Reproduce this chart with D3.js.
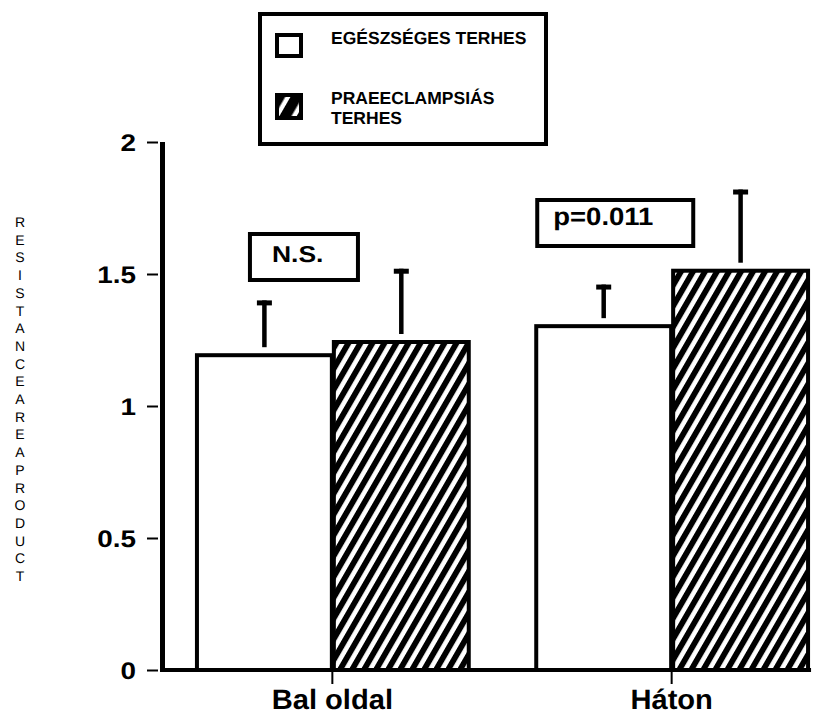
<!DOCTYPE html>
<html>
<head>
<meta charset="utf-8">
<script src="https://cdn.jsdelivr.net/npm/d3@7"></script>
<style>
  html, body { margin: 0; padding: 0; background: #fff; }
  svg { display: block; font-family: "Liberation Sans", Arial, Helvetica, sans-serif; }
  text { text-rendering: geometricPrecision; }
</style>
</head>
<body>
<svg id="chart" width="823" height="717"></svg>
<script>
// Groups (x axis) and series
const groups = ["Bal oldal", "Háton"];
const seriesNames = ["EGÉSZSÉGES TERHES", "PRAEECLAMPSIÁS TERHES"];
const seriesKeys = ["healthy", "preeclampsia"];

// Mean values and upper error (SD) per group
const healthyMean = [1.20, 1.31];
const healthyErr = [0.20, 0.15];
const preeclampsiaMean = [1.25, 1.52];
const preeclampsiaErr = [0.27, 0.30];

// Significance annotations per group
const annotations = ["N.S.", "p=0.011"];

// Y axis ticks and title
const yTicks = [0, 0.5, 1, 1.5, 2];
const yTitle = "RESISTANCEAREAPRODUCT";

const svg = d3.select("#chart");

// Diagonal hatch fills: one for the bars, a coarser one for the legend swatch
const defs = svg.append("defs");
function hatch(id, period, black) {
  defs.append("pattern")
    .attr("id", id)
    .attr("patternUnits", "userSpaceOnUse")
    .attr("width", period)
    .attr("height", period)
    .attr("patternTransform", "rotate(30)")
    .call(p => {
      p.append("rect").attr("width", period).attr("height", period).attr("fill", "#fff");
      p.append("rect").attr("width", black).attr("height", period).attr("fill", "#000");
    });
}
hatch("hatch", 10.4, 5.8);
hatch("hatchLegend", 15, 10.5);

const y = d3.scaleLinear().domain([0, 2]).range([670, 142]);
const x0 = d3.scaleBand().domain(groups).range([160, 843])
  .paddingInner(0.193).paddingOuter(0.103);
const x1 = d3.scaleBand().domain(seriesKeys).range([0, x0.bandwidth()]);

const rows = groups.map((g, i) => ({
  group: g,
  values: [
    { key: "healthy", v: healthyMean[i], e: healthyErr[i] },
    { key: "preeclampsia", v: preeclampsiaMean[i], e: preeclampsiaErr[i] }
  ]
}));

const fills = { healthy: "#fff", preeclampsia: "url(#hatch)" };
const legendFills = { healthy: "#fff", preeclampsia: "url(#hatchLegend)" };

// Bars
const sw = 4;
const gGroups = svg.append("g").selectAll("g").data(rows).join("g")
  .attr("transform", d => `translate(${x0(d.group)},0)`);

gGroups.selectAll("rect.bar").data(d => d.values).join("rect")
  .attr("class", "bar")
  .attr("x", d => x1(d.key) + sw / 2)
  .attr("y", d => y(d.v) + sw / 2)
  .attr("width", x1.bandwidth() - sw / 2)
  .attr("height", d => y(0) - y(d.v) - sw / 2)
  .attr("fill", d => fills[d.key])
  .attr("stroke", "#000")
  .attr("stroke-width", sw);

// Error bars (upper only)
const err = gGroups.selectAll("g.err").data(d => d.values).join("g")
  .attr("class", "err")
  .attr("transform", d => `translate(${x1(d.key) + x1.bandwidth() / 2 + 1},0)`);
err.append("line")
  .attr("x1", 0).attr("x2", 0)
  .attr("y1", d => y(d.v) - 6)
  .attr("y2", d => y(d.v + d.e))
  .attr("stroke", "#000").attr("stroke-width", 4.5);
err.append("line")
  .attr("x1", -7.5).attr("x2", 7.5)
  .attr("y1", d => y(d.v + d.e) + 2.5)
  .attr("y2", d => y(d.v + d.e) + 2.5)
  .attr("stroke", "#000").attr("stroke-width", 5);

// Y axis
const yAxis = d3.axisLeft(y).tickValues(yTicks).tickSize(11).tickPadding(9)
  .tickFormat(d3.format("~g"));
const gy = svg.append("g").attr("transform", "translate(158,0)").call(yAxis);
gy.select(".domain").remove();
gy.selectAll(".tick line").attr("stroke", "#000").attr("stroke-width", 2);
gy.selectAll(".tick text")
  .attr("font-size", 24).attr("font-weight", "bold").attr("fill", "#000")
  .attr("font-family", "Liberation Sans, Arial, sans-serif")
  .attr("dy", "0.36em")
  .attr("x", 0)
  .attr("transform", "translate(-22,0) scale(1.16,1)");
svg.append("line")
  .attr("x1", 162.5).attr("x2", 162.5)
  .attr("y1", y(2)).attr("y2", y(0) + 2)
  .attr("stroke", "#000").attr("stroke-width", 5);

// X axis
const xAxis = d3.axisBottom(d3.scalePoint().domain(groups)
  .range([x0(groups[0]) + x0.bandwidth() / 2, x0(groups[1]) + x0.bandwidth() / 2]))
  .tickSize(14).tickPadding(4);
const gx = svg.append("g").attr("transform", `translate(0,${y(0)})`).call(xAxis);
gx.select(".domain").remove();
gx.selectAll(".tick line").attr("stroke", "#000").attr("stroke-width", 2);
gx.selectAll(".tick text")
  .attr("font-size", 28).attr("font-weight", "bold").attr("fill", "#000")
  .attr("font-family", "Liberation Sans, Arial, sans-serif")
  .attr("y", 39).attr("dy", 0)
  .attr("transform", "scale(1.04,1)");
svg.append("line")
  .attr("x1", 160).attr("x2", x0(groups[1]) + x0.bandwidth() + 3)
  .attr("y1", y(0)).attr("y2", y(0))
  .attr("stroke", "#000").attr("stroke-width", 4);

// Y title, letters stacked vertically
svg.append("text")
  .attr("font-size", 14).attr("fill", "#000").attr("text-anchor", "middle")
  .selectAll("tspan").data(yTitle.split("")).join("tspan")
  .attr("x", 20)
  .attr("y", (d, i) => 227 + i * 17.7)
  .text(d => d);

// Significance boxes
const annLayout = [
  { dx: 53, w: 112, top: 232, h: 50, tx: 24, ty: 30, fs: 23, sx: 1.15 },
  { dx: 1, w: 160, top: 198, h: 50, tx: 18, ty: 27, fs: 25, sx: 1.1 }
];
annotations.forEach((t, i) => {
  const L = annLayout[i];
  const bx = x0(groups[i]) + L.dx;
  svg.append("rect")
    .attr("x", bx + 2).attr("y", L.top + 2)
    .attr("width", L.w - 4).attr("height", L.h - 4)
    .attr("fill", "#fff").attr("stroke", "#000").attr("stroke-width", 4);
  svg.append("text")
    .attr("transform", `translate(${bx + L.tx},${L.top + L.ty}) scale(${L.sx},1)`)
    .attr("font-size", L.fs).attr("font-weight", "bold")
    .text(t);
});

// Legend
const legend = svg.append("g");
legend.append("rect")
  .attr("x", 260).attr("y", 14).attr("width", 286).attr("height", 130)
  .attr("fill", "#fff").attr("stroke", "#000").attr("stroke-width", 4);
const legendItems = [
  { key: "healthy", lines: [seriesNames[0]], sy: 33, sh: 25, ty: [44] },
  { key: "preeclampsia", lines: ["PRAEECLAMPSIÁS", "TERHES"], sy: 93, sh: 27, ty: [104, 124] }
];
legendItems.forEach(it => {
  legend.append("rect")
    .attr("x", 277).attr("y", it.sy + 2).attr("width", 24).attr("height", it.sh - 4)
    .attr("fill", legendFills[it.key]).attr("stroke", "#000").attr("stroke-width", 4);
  it.lines.forEach((ln, j) => {
    legend.append("text")
      .attr("x", 331).attr("y", it.ty[j])
      .attr("font-size", 17.5).attr("font-weight", "bold")
      .text(ln);
  });
});
</script>
</body>
</html>
